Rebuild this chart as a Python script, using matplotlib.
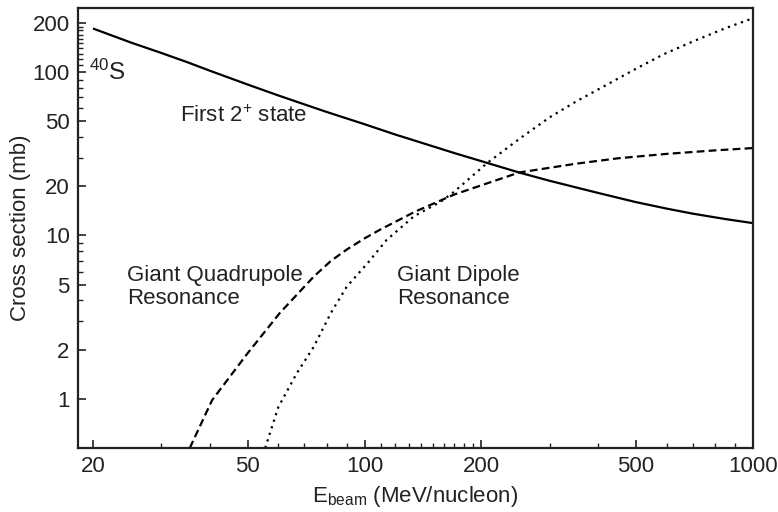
import matplotlib
matplotlib.use("Agg")
import matplotlib.pyplot as plt
from matplotlib.ticker import FixedLocator, NullFormatter

plt.rcParams['font.family'] = ['Liberation Sans', 'DejaVu Sans']
plt.rcParams['mathtext.fontset'] = 'custom'
plt.rcParams['mathtext.rm'] = 'Liberation Sans'
plt.rcParams['mathtext.it'] = 'Liberation Sans:italic'

# First 2+ state (solid)
first2_x = [20, 25, 30, 35, 40, 50, 60, 70, 80, 100, 120, 140, 170, 200, 250, 300,
            400, 500, 600, 700, 850, 1000]
first2_y = [185, 152, 131, 115, 102, 84, 72, 63.5, 57, 48, 41.5, 37, 32, 28.5, 24.3,
            21.6, 18.2, 16.0, 14.6, 13.6, 12.6, 11.9]

# Giant Quadrupole Resonance (dashed)
gqr_x = [35.5, 40.5, 50, 60.5, 74, 82, 90, 100, 110, 135, 170, 250, 350, 450, 600, 800, 1000]
gqr_y = [0.5, 0.98, 1.9, 3.35, 5.6, 7.0, 8.2, 9.6, 10.9, 14.0, 17.8, 24.3, 27.5, 29.7,
         31.6, 33.2, 34.3]

# Giant Dipole Resonance (dotted)
gdr_x = [55.5, 60, 67, 74, 82, 90, 102, 114, 134, 157, 170, 207, 252, 300, 350, 400,
         500, 590, 700, 850, 1000]
gdr_y = [0.5, 0.89, 1.44, 2.08, 3.37, 4.86, 6.8, 9.4, 13.1, 16.1, 18.5, 27.8, 39.5, 53,
         66, 78.5, 105, 129, 154, 186, 214]

x_major = [20, 50, 100, 200, 500, 1000]
x_major_labels = ['20', '50', '100', '200', '500', '1000']
x_minor = [30, 40, 60, 70, 80, 90, 110, 120, 130, 140, 150, 160, 170, 180, 190,
           300, 400, 600, 700, 800, 900]
y_major = [1, 2, 5, 10, 20, 50, 100, 200]
y_major_labels = ['1', '2', '5', '10', '20', '50', '100', '200']
y_minor = [3, 4, 6, 7, 8, 9, 30, 40, 60, 70, 80, 90, 110, 120, 130, 140, 150, 160,
           170, 180, 190]

fig = plt.figure(figsize=(7.78, 5.12), dpi=100)
ax = fig.add_axes([78/778, 1-448/512, (753-78)/778, (448-8)/512])
ax.set_xscale('log')
ax.set_yscale('log')
ax.set_xlim(18.3, 1000)
ax.set_ylim(0.5, 247)

ax.plot(first2_x, first2_y, color='black', lw=1.6, solid_capstyle='butt')
ax.plot(gqr_x, gqr_y, color='black', lw=1.6, dashes=(3.5, 1.9))
ax.plot(gdr_x, gdr_y, color='black', lw=1.6, dashes=(1.0, 2.1))

ax.xaxis.set_major_locator(FixedLocator(x_major))
ax.set_xticklabels(x_major_labels)
ax.xaxis.set_minor_locator(FixedLocator(x_minor))
ax.xaxis.set_minor_formatter(NullFormatter())
ax.yaxis.set_major_locator(FixedLocator(y_major))
ax.set_yticklabels(y_major_labels)
ax.yaxis.set_minor_locator(FixedLocator(y_minor))
ax.yaxis.set_minor_formatter(NullFormatter())

ax.tick_params(which='both', direction='in', top=False, right=False, colors='#222222',
               labelcolor='#222222', labelsize=16)
ax.tick_params(which='major', length=6, width=1.2, pad=6)
ax.tick_params(which='minor', length=3.5, width=1.0)
for s in ax.spines.values():
    s.set_linewidth(1.6)
    s.set_color('#222222')

ax.set_ylabel('Cross section (mb)', fontsize=16, color='#222222', labelpad=1)
ax.set_xlabel(r'E$_{\mathrm{beam}}$ (MeV/nucleon)', fontsize=16, color='#222222', labelpad=5)

tc = '#222222'
ax.text(0.016, 0.855, r'$^{\mathrm{40}}$S', transform=ax.transAxes, fontsize=17.5,
        color=tc, va='center', ha='left')
ax.text(0.151, 0.755, r'First 2$^{+}$ state', transform=ax.transAxes, fontsize=16,
        color=tc, va='center', ha='left')
ax.text(0.0726, 0.365, 'Giant Quadrupole\nResonance', transform=ax.transAxes,
        fontsize=16, color=tc, va='center', ha='left', linespacing=1.12)
ax.text(0.4726, 0.365, 'Giant Dipole\nResonance', transform=ax.transAxes,
        fontsize=16, color=tc, va='center', ha='left', linespacing=1.12)

fig.savefig('out.png', dpi=100)
